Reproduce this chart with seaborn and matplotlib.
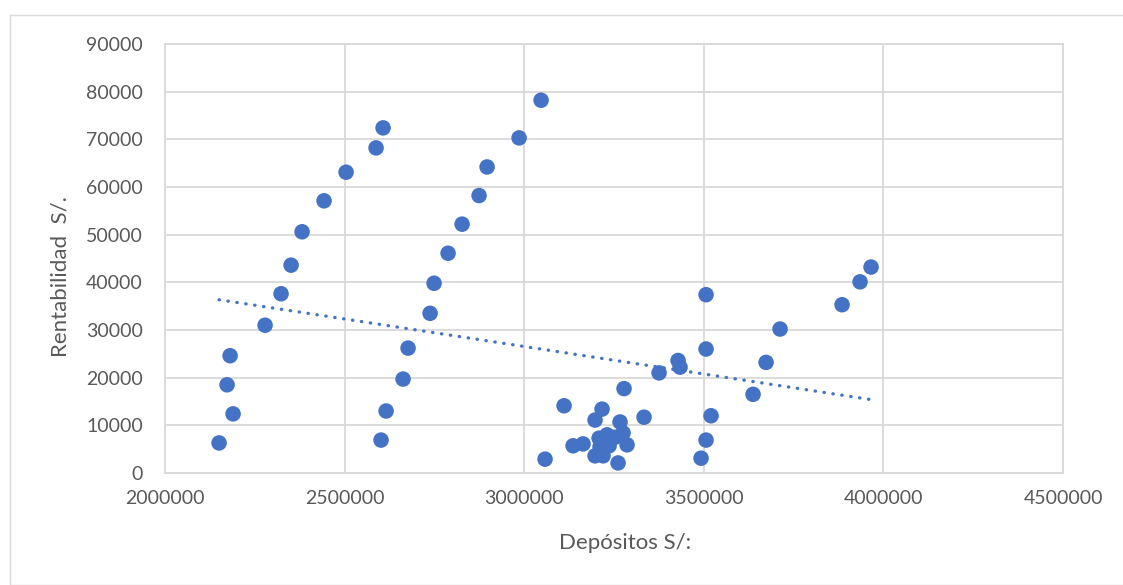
import numpy as np
import pandas as pd
import matplotlib
matplotlib.use("Agg")
import matplotlib.pyplot as plt
import seaborn as sns
from matplotlib.patches import Rectangle

# Deposits (S/) and profitability (S/.) per observation
depositos = [
    2150300, 2172600, 2189300, 2181000, 2278400, 2322900, 2350800, 2381400,
    2442600, 2503900, 2587400, 2606900,
    2601300, 2615300, 2662600, 2676500, 2737800, 2748900, 2787900, 2826900,
    2874200, 2896500, 2985600, 3046800,
    3057900, 3110800, 3135900, 3163700, 3197100, 3216600, 3197100, 3219400,
    3261200, 3230500, 3208300, 3275100, 3286200, 3236100, 3266700, 3277800,
    3252800, 3211000,
    3333500, 3375300, 3428200, 3433700, 3506100, 3506100, 3520000, 3506100,
    3492200, 3637000, 3673200, 3712200, 3884800, 3934900, 3965500,
]
rentabilidad = [
    6300, 18500, 12400, 24600, 31000, 37600, 43600, 50600,
    57100, 63100, 68200, 72400,
    6900, 13000, 19700, 26200, 33500, 39800, 46100, 52200,
    58200, 64200, 70300, 78200,
    2900, 14100, 5700, 6100, 11100, 13400, 3600, 3600,
    2100, 8000, 7300, 8400, 5900, 5700, 10700, 17700,
    7500, 5500,
    11700, 21000, 23600, 22200, 26000, 37400, 12000, 6900,
    3100, 16500, 23200, 30200, 35300, 40100, 43200,
]

x_ticks = [2000000, 2500000, 3000000, 3500000, 4000000, 4500000]
y_ticks = [0, 10000, 20000, 30000, 40000, 50000, 60000, 70000, 80000, 90000]

df = pd.DataFrame({"Depósitos S/:": depositos, "Rentabilidad  S/.": rentabilidad})

sns.set_style("white")
plt.rcParams["font.family"] = ["Lato", "DejaVu Sans"]

blue = "#4472C4"
grid = "#D9D9D9"
text = "#595959"

fig = plt.figure(figsize=(11.23, 5.85), dpi=100)
ax = fig.add_axes([0.147, 0.1915, 0.7996, 0.7333])

# chart frame
fig.patches.append(Rectangle((10 / 1123, 0), 1.2, 1 - 15 / 585, transform=fig.transFigure,
                             fill=False, edgecolor="#D9D9D9", linewidth=1.0))

sns.scatterplot(data=df, x="Depósitos S/:", y="Rentabilidad  S/.", ax=ax,
                color=blue, s=125, edgecolor="none", linewidth=0, zorder=3)

# linear trend line over the data range
coef = np.polyfit(df["Depósitos S/:"], df["Rentabilidad  S/."], 1)
xs = np.array([df["Depósitos S/:"].min(), df["Depósitos S/:"].max()])
ax.plot(xs, np.polyval(coef, xs), linestyle=(0, (0.1, 2.6)), color=blue,
        linewidth=2.4, dash_capstyle="round", zorder=2)

ax.set_xlim(x_ticks[0], x_ticks[-1])
ax.set_ylim(y_ticks[0], y_ticks[-1])
ax.set_xticks(x_ticks)
ax.set_yticks(y_ticks)
ax.set_xticklabels([str(v) for v in x_ticks])
ax.set_yticklabels([str(v) for v in y_ticks])
ax.grid(True, color=grid, linewidth=1.3)
ax.set_axisbelow(True)
for s in ax.spines.values():
    s.set_color(grid)
    s.set_linewidth(1.3)
ax.tick_params(axis="y", length=0, labelsize=14, colors=text, pad=16)
ax.tick_params(axis="x", length=0, labelsize=14, colors=text, pad=12)
ax.set_xlabel("Depósitos S/:", fontsize=16, color=text)
ax.set_ylabel("Rentabilidad  S/.", fontsize=16, color=text)
ax.xaxis.set_label_coords(0.512, -0.163)
ax.yaxis.set_label_coords(-0.117, 0.457)
ax.xaxis.label.set_verticalalignment("center")
ax.yaxis.label.set_verticalalignment("center")

fig.savefig("out.png", dpi=100, facecolor="white")
